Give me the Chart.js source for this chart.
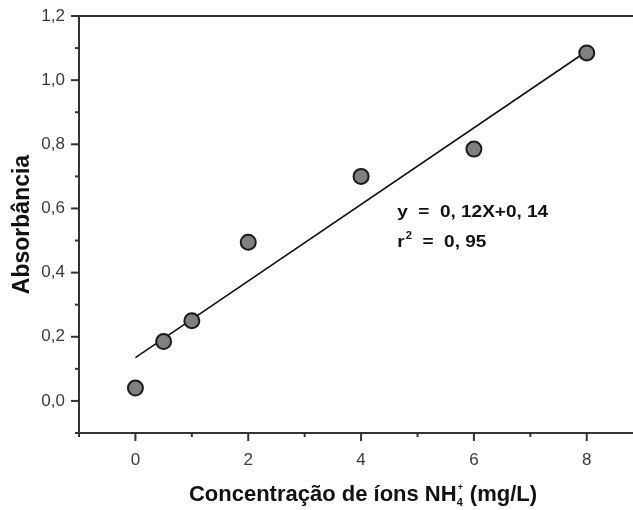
<!DOCTYPE html>
<html><head><meta charset="utf-8">
<script src="https://cdn.jsdelivr.net/npm/chart.js@4"></script>
<style>html,body{margin:0;padding:0;background:#fff}#wrap{width:633px;height:510px}</style>
</head><body><div id="wrap"><canvas id="c"></canvas></div>
<script>
const concentrations = [0, 0.5, 1, 2, 4, 6, 8];
const absorbance = [0.04, 0.185, 0.25, 0.495, 0.70, 0.785, 1.085];
const fitX = [0, 8];
const fitY = [0.135, 1.09];
const yTicks = [0, 0.2, 0.4, 0.6, 0.8, 1.0, 1.2];
const yMinorTicks = [-0.1, 0.1, 0.3, 0.5, 0.7, 0.9, 1.1];
const xTicks = [0, 2, 4, 6, 8];
const xMinorTicks = [-1, 1, 3, 5, 7];
const yTitle = 'Absorbância';
const xTitleParts = ['Concentração de íons NH', '4', '+', ' (mg/L)'];
const equationLine1 = 'y  =  0, 12X+0, 14';
const equationLine2 = ['r', '2', '  =  0, 95'];

const AXIS = '#333';
const LABEL = '#3a3a3a';
const SANS = "'Liberation Sans', Arial, sans-serif";

const decor = {
  id: 'decor',
  afterDraw(chart) {
    const ctx = chart.ctx, a = chart.chartArea;
    const xs = chart.scales.x, ys = chart.scales.y;
    ctx.save();
    ctx.strokeStyle = AXIS; ctx.lineWidth = 2;
    ctx.beginPath(); ctx.moveTo(a.left - 1, a.top); ctx.lineTo(chart.width, a.top); ctx.stroke();
    yTicks.forEach(v => { const p = ys.getPixelForValue(v); ctx.beginPath(); ctx.moveTo(a.left - 8, p); ctx.lineTo(a.left, p); ctx.stroke(); });
    yMinorTicks.forEach(v => { const p = ys.getPixelForValue(v); ctx.beginPath(); ctx.moveTo(a.left - 4, p); ctx.lineTo(a.left, p); ctx.stroke(); });
    xTicks.forEach(v => { const p = xs.getPixelForValue(v); ctx.beginPath(); ctx.moveTo(p, a.bottom); ctx.lineTo(p, a.bottom + 8); ctx.stroke(); });
    xMinorTicks.forEach(v => { const p = xs.getPixelForValue(v); ctx.beginPath(); ctx.moveTo(p, a.bottom); ctx.lineTo(p, a.bottom + 4); ctx.stroke(); });

    // equation (condensed bold)
    ctx.fillStyle = '#111'; ctx.textBaseline = 'alphabetic'; ctx.textAlign = 'left';
    const eqFont = "bold 17px " + SANS;
    const supFont = "bold 10px " + SANS;
    ctx.font = eqFont;
    const targetW = 151;
    const sx = targetW / ctx.measureText(equationLine1).width;
    const ex = xs.getPixelForValue(4.64);
    const ey1 = ys.getPixelForValue(0.573), ey2 = ys.getPixelForValue(0.48);
    ctx.save();
    ctx.translate(ex, 0); ctx.scale(sx, 1);
    ctx.fillText(equationLine1, 0, ey1);
    let cx = 0;
    ctx.fillText(equationLine2[0], cx, ey2); cx += ctx.measureText(equationLine2[0]).width + 1;
    ctx.font = supFont; ctx.fillText(equationLine2[1], cx, ey2 - 8); cx += ctx.measureText(equationLine2[1]).width;
    ctx.font = eqFont; ctx.fillText(equationLine2[2], cx, ey2);
    ctx.restore();

    // x title
    const big = "bold 22px " + SANS;
    const small = "bold 11px " + SANS;
    const tiny = "bold 9px " + SANS;
    ctx.font = big; const w0 = ctx.measureText(xTitleParts[0]).width, w3 = ctx.measureText(xTitleParts[3]).width;
    ctx.font = small; const w1 = ctx.measureText(xTitleParts[1]).width;
    const total = w0 + w1 + w3 + 1;
    let tx = 363 - total / 2; const ty = 501;
    ctx.fillStyle = '#111';
    ctx.font = big; ctx.fillText(xTitleParts[0], tx, ty); tx += w0;
    ctx.font = small; ctx.fillText(xTitleParts[1], tx, ty + 5);
    ctx.font = tiny; ctx.fillText(xTitleParts[2], tx + 1, ty - 11); tx += w1 + 1;
    ctx.font = big; ctx.fillText(xTitleParts[3], tx, ty);
    ctx.restore();
  }
};

new Chart(document.getElementById('c'), {
  type: 'scatter',
  data: {
    datasets: [
      { label: 'Dados', data: concentrations.map((x, i) => ({ x, y: absorbance[i] })),
        pointRadius: 7.5, pointBackgroundColor: '#808080', pointBorderColor: '#1a1a1a', pointBorderWidth: 2, order: 0 },
      { label: 'Ajuste', data: fitX.map((x, i) => ({ x, y: fitY[i] })), showLine: true,
        borderColor: '#111', borderWidth: 1.6, pointRadius: 0, order: 1 }
    ]
  },
  options: {
    responsive: true, maintainAspectRatio: false, animation: false, devicePixelRatio: 1,
    layout: { autoPadding: false, padding: { top: 16, right: 0, left: 0, bottom: 0 } },
    plugins: { legend: { display: false }, tooltip: { enabled: false } },
    scales: {
      x: {
        type: 'linear', min: -1, max: 8.82,
        afterFit(s) { s.height = 77; s.paddingLeft = 0; s.paddingRight = 0; },
        afterBuildTicks(s) { s.ticks = xTicks.map(v => ({ value: v })); },
        grid: { display: false, drawTicks: false },
        border: { display: true, color: AXIS, width: 2 },
        ticks: { padding: 17, color: LABEL, font: { family: SANS, size: 17 }, callback: v => String(v) }
      },
      y: {
        type: 'linear', min: -0.1, max: 1.2,
        afterFit(s) { s.width = 79; s.paddingTop = 0; s.paddingBottom = 0; },
        afterBuildTicks(s) { s.ticks = yTicks.map(v => ({ value: v })); },
        grid: { display: false, drawTicks: false },
        border: { display: true, color: AXIS, width: 2 },
        ticks: { padding: 14, color: LABEL, font: { family: SANS, size: 17 },
          callback: v => Number(v).toFixed(1).replace('.', ',') },
        title: { display: true, text: yTitle, color: '#111', padding: { top: 9, bottom: 0 },
          font: { family: SANS, size: 23, weight: 'bold' } }
      }
    }
  },
  plugins: [decor]
});
</script>
</body></html>
